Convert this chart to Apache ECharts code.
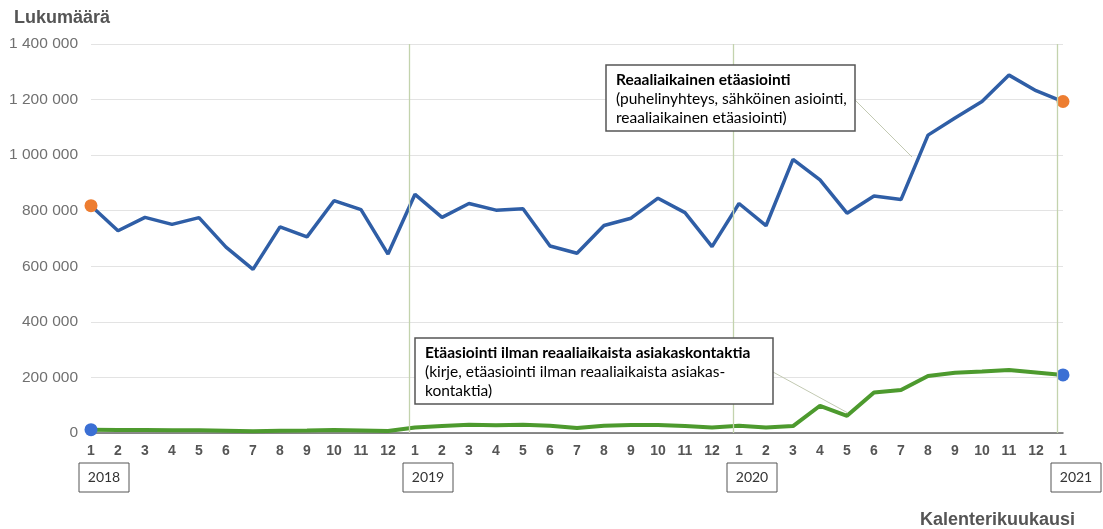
<!DOCTYPE html>
<html><head><meta charset="utf-8">
<script src="https://cdn.jsdelivr.net/npm/echarts@6/dist/echarts.min.js"></script>
<style>html,body{margin:0;padding:0;background:#fff}#c{width:1103px;height:529px}</style>
</head><body><div id="c"></div>
<script>
// ---- data ----
const monthLabels = ['1','2','3','4','5','6','7','8','9','10','11','12',
                     '1','2','3','4','5','6','7','8','9','10','11','12',
                     '1','2','3','4','5','6','7','8','9','10','11','12','1'];
const yearLabels = ['2018','2019','2020','2021'];
const yearStartIdx = [0, 12, 24, 36];
const yearLineIdx = [11.78, 23.78, 35.78];
const realtime = [818000, 728000, 776000, 751000, 775000, 669000, 589000, 742000, 706000, 836000, 804000, 644000,
                  859000, 776000, 826000, 802000, 807000, 673000, 647000, 747000, 773000, 845000, 793000, 671000,
                  826000, 746000, 985000, 911000, 791000, 853000, 840000, 1072000, 1134000, 1193000, 1288000, 1232000, 1193000];
const nonRealtime = [12000, 11000, 11000, 10000, 10000, 8000, 6000, 8000, 9000, 11000, 9000, 7000,
                     20000, 25000, 30000, 28000, 30000, 26000, 18000, 26000, 29000, 29000, 25000, 20000,
                     26000, 20000, 25000, 98000, 62000, 146000, 155000, 205000, 217000, 221000, 227000, 218000, 209000];
const yMin = 0, yMax = 1400000, yStep = 200000;
const yTitle = 'Lukumäärä';
const xTitle = 'Kalenterikuukausi';
const note1 = ['Reaaliaikainen etäasiointi', '(puhelinyhteys, sähköinen asiointi,', 'reaaliaikainen etäasiointi)'];
const note2 = ['Etäasiointi ilman reaaliaikaista asiakaskontaktia', '(kirje, etäasiointi ilman reaaliaikaista asiakas-', 'kontaktia)'];

function fmt(v){ return String(v).replace(/\B(?=(\d{3})+(?!\d))/g, ' '); }
function toData(arr, endColor){
  const last = arr.length - 1;
  return arr.map((v,i) => (i === 0 || i === last)
    ? {value:[i,v], symbol:'circle', symbolSize:13, itemStyle:{color:endColor}}
    : {value:[i,v], symbol:'none'});
}

const chart = echarts.init(document.getElementById('c'), null, {renderer:'canvas'});
chart.setOption({
  animation:false,
  grid:{left:91, right:40, top:44, bottom:96},
  xAxis:{
    type:'value', min:0, max:monthLabels.length-1, interval:1,
    axisLine:{show:true, onZero:false, lineStyle:{color:'#666', width:1.5}},
    axisTick:{show:false}, splitLine:{show:false},
    axisLabel:{margin:11, fontFamily:'Liberation Sans', fontSize:14, fontWeight:'bold', color:'#555',
      formatter:v => monthLabels[Math.round(v)] || ''}
  },
  yAxis:{
    type:'value', min:yMin, max:yMax, interval:yStep,
    axisLine:{show:false}, axisTick:{show:false},
    splitLine:{lineStyle:{color:'#e3e3e3', width:1.2}},
    axisLabel:{margin:13, fontFamily:'Liberation Sans', fontSize:15.5, color:'#707070', formatter:fmt}
  },
  series:[
    {type:'line', name:note1[0], data:toData(realtime,'#ed7d31'), showSymbol:true,
     lineStyle:{color:'#2f5ea6', width:3.5}, itemStyle:{color:'#2f5ea6'}, z:3,
     markLine:{silent:true, symbol:['none','none'], label:{show:false},
       lineStyle:{color:'#c3d3ad', width:1.3, type:'solid'},
       data: yearLineIdx.map(x => ({xAxis:x}))}
    },
    {type:'line', name:note2[0], data:toData(nonRealtime,'#3b6fd4'), showSymbol:true,
     lineStyle:{color:'#4d9a2e', width:4}, itemStyle:{color:'#4d9a2e'}, z:4}
  ]
});

function box(x, y, w, h, lines, lh){
  return [
    {type:'rect', z:100, shape:{x:x, y:y, width:w, height:h}, style:{fill:'#fff', stroke:'#555', lineWidth:1.5}},
    {type:'text', z:101, x:x+10, y:y+5, style:{
      text:'{b|'+lines[0]+'}\n{n|'+lines[1]+'}\n{n|'+lines[2]+'}',
      rich:{b:{fontFamily:'Lato', fontSize:15.5, fontWeight:'bold', color:'#222', lineHeight:lh},
            n:{fontFamily:'Lato', fontSize:15.5, color:'#444', lineHeight:lh}},
      verticalAlign:'top', align:'left'}}
  ];
}

const g = [];
// titles
g.push({type:'text', left:14, top:9, style:{text:yTitle, fontFamily:'Liberation Sans', fontSize:18, fontWeight:'bold', fill:'#555'}});
g.push({type:'text', right:28, bottom:0, style:{text:xTitle, fontFamily:'Liberation Sans', fontSize:18, fontWeight:'bold', fill:'#555'}});
// year boxes
yearStartIdx.forEach((idx, k) => {
  const p = chart.convertToPixel({gridIndex:0}, [idx, 0]);
  const cx = p[0] + 13;
  g.push({type:'rect', z:50, shape:{x:cx-25, y:463, width:50, height:29}, style:{fill:'#fff', stroke:'#555', lineWidth:1}});
  g.push({type:'text', z:51, x:cx, y:477.5, style:{text:yearLabels[k], fontFamily:'Lato', fontSize:14, fill:'#333', align:'center', verticalAlign:'middle'}});
});
// leader lines
g.push({type:'line', z:90, shape:{x1:855, y1:100, x2:912, y2:157}, style:{stroke:'#c2c9b2', lineWidth:1}});
g.push({type:'line', z:90, shape:{x1:773, y1:372, x2:848, y2:413}, style:{stroke:'#c2c9b2', lineWidth:1}});
box(606, 65, 249, 66, note1, 19).forEach(e => g.push(e));
box(415, 338, 358, 66, note2, 19).forEach(e => g.push(e));
chart.setOption({graphic:g});
</script></body></html>
